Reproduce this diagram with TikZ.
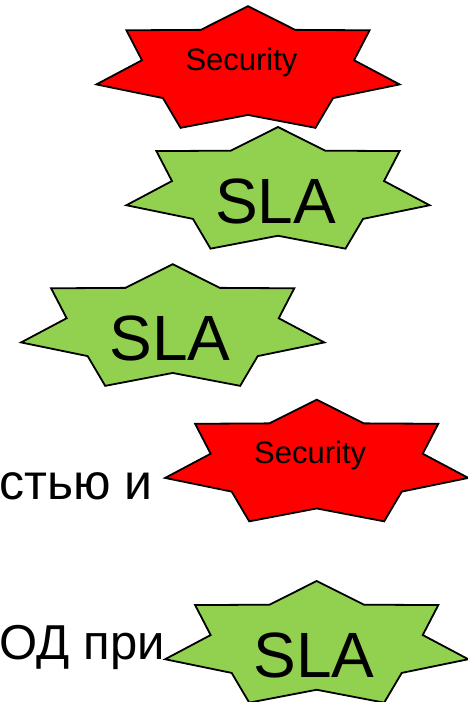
\documentclass[tikz,border=0pt]{standalone}
\usepackage{fontspec}
\setmainfont{Liberation Sans}
\usetikzlibrary{shapes.geometric,positioning}
\definecolor{burstred}{HTML}{FF0000}
\definecolor{burstgreen}{HTML}{92D050}

\begin{document}
\begin{tikzpicture}[
  x=1pt, y=1pt,
  burst/.style={star, star points=7, star point ratio=1.43, minimum size=128pt,
    inner sep=0pt, xscale=2.43, draw=black, line width=1.8pt, fill=#1},
  small/.style={font=\fontsize{31}{36}\selectfont, anchor=base, inner sep=0pt},
  big/.style={font=\fontsize{64}{70}\selectfont, anchor=base, inner sep=0pt},
  line/.style={font=\fontsize{#1}{58}\selectfont, anchor=base east, inner sep=0pt}
]
\useasboundingbox (0,0) rectangle (468,702);

% Stars, top to bottom
\node[burst=burstred] (sec1) at (248,631.8) {};
\node[small, xshift=-6.5pt] (sec1t) at (sec1.center) {Security};

\node[burst=burstgreen] (sla1) at (278,511) {};
\node[big, xshift=-2.5pt, yshift=-32.5pt] (sla1t) at (sla1.center) {SLA};

\node[burst=burstgreen] (sla2) at (172.7,373.8) {};
\node[big, xshift=-2.5pt, yshift=-32.5pt] (sla2t) at (sla2.center) {SLA};

\node[burst=burstred] (sec2) at (316.7,238.3) {};
\node[small, xshift=-6.5pt] (sec2t) at (sec2.center) {Security};

\node[burst=burstgreen] (sla3) at (316.7,57) {};
\node[big, xshift=-2.5pt, yshift=-32.5pt] (sla3t) at (sla3.center) {SLA};

% Slide text at the left edge
\node[line=50] (txt1) at (153,202) {стью и};
\node[line=49] (txt2) at (165,42) {ОД при};

\end{tikzpicture}
\end{document}
